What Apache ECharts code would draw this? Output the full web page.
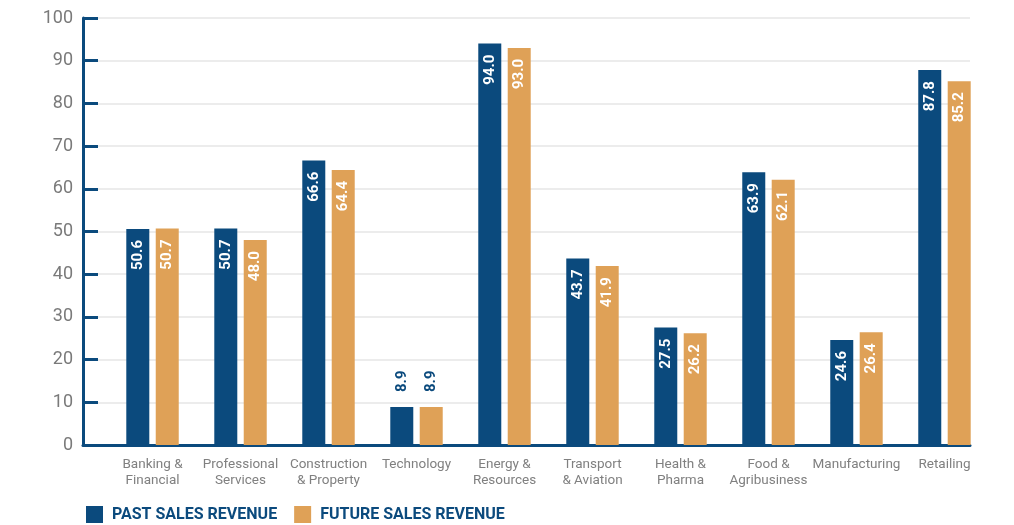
<!DOCTYPE html>
<html>
<head>
<meta charset="utf-8">
<script src="https://cdn.jsdelivr.net/npm/echarts@6/dist/echarts.min.js"></script>
<style>
  html, body { margin: 0; padding: 0; background: #ffffff; }
  #chart { width: 1014px; height: 525px; }
</style>
</head>
<body>
<div id="chart"></div>
<script>
// Sectors shown along the horizontal axis
const categories = [
  'Banking &\nFinancial', 'Professional\nServices', 'Construction\n& Property',
  'Technology', 'Energy &\nResources', 'Transport\n& Aviation', 'Health &\nPharma',
  'Food &\nAgribusiness', 'Manufacturing', 'Retailing'
];
// Revenue index per sector
const pastSales = [50.6, 50.7, 66.6, 8.9, 94.0, 43.7, 27.5, 63.9, 24.6, 87.8];
const futureSales = [50.7, 48.0, 64.4, 8.9, 93.0, 41.9, 26.2, 62.1, 26.4, 85.2];
const seriesNames = ['PAST SALES REVENUE', 'FUTURE SALES REVENUE'];
const yTicks = [0, 10, 20, 30, 40, 50, 60, 70, 80, 90, 100];

const BLUE = '#0b4a7d';
const ORANGE = '#dfa157';
const FONT = 'Roboto, "Liberation Sans", sans-serif';

// Small bars get their value written above the bar instead of inside it
const SMALL = 15;

function toData(values) {
  return values.map((v, i) => {
    const item = { value: [i, v] };
    if (v < SMALL) {
      item.label = {
        position: 'top', align: 'left', color: BLUE, distance: 15
      };
    }
    return item;
  });
}

const barLabel = {
  show: true,
  position: 'insideTop',
  rotate: 90,
  align: 'right',
  verticalAlign: 'middle',
  distance: 11,
  color: '#ffffff',
  fontFamily: FONT,
  fontWeight: 'bold',
  fontSize: 15,
  formatter: p => p.value[1].toFixed(1)
};

const idx = categories.map((_, i) => i);

const chart = echarts.init(document.getElementById('chart'), null, { renderer: 'canvas' });
chart.setOption({
  animation: false,
  backgroundColor: '#ffffff',
  grid: { left: 83, right: 44, top: 18, bottom: 80, containLabel: false },
  legend: {
    left: 81, top: 501,
    icon: 'rect', itemWidth: 17, itemHeight: 17, itemGap: 17,
    textStyle: {
      color: BLUE, fontFamily: FONT, fontWeight: 'bold', fontSize: 16,
      padding: [0, 0, 0, 4]
    },
    data: seriesNames
  },
  xAxis: {
    type: 'value',
    min: -0.79,
    max: 9.29,
    axisLine: { show: true, onZero: false, lineStyle: { color: BLUE, width: 3 } },
    axisTick: { show: false },
    splitLine: { show: false },
    axisLabel: {
      customValues: idx,
      color: '#808080',
      fontFamily: FONT,
      fontSize: 13.5,
      lineHeight: 16,
      margin: 12,
      formatter: v => categories[Math.round(v)]
    }
  },
  yAxis: {
    type: 'value',
    min: yTicks[0],
    max: yTicks[yTicks.length - 1],
    interval: 10,
    axisLine: { show: true, onZero: false, lineStyle: { color: BLUE, width: 3 } },
    axisTick: { show: true, inside: true, length: 15, lineStyle: { color: BLUE, width: 3 } },
    splitLine: { show: true, lineStyle: { color: '#e6e6e6', width: 1.5 } },
    axisLabel: {
      color: '#7a7a7a', fontFamily: FONT, fontSize: 18, margin: 10
    }
  },
  series: [
    {
      name: seriesNames[0], type: 'bar', barWidth: 23, barGap: '28%',
      itemStyle: { color: BLUE },
      label: barLabel,
      data: toData(pastSales)
    },
    {
      name: seriesNames[1], type: 'bar', barWidth: 23, barGap: '28%',
      itemStyle: { color: ORANGE },
      label: barLabel,
      data: toData(futureSales)
    }
  ]
});
</script>
</body>
</html>
